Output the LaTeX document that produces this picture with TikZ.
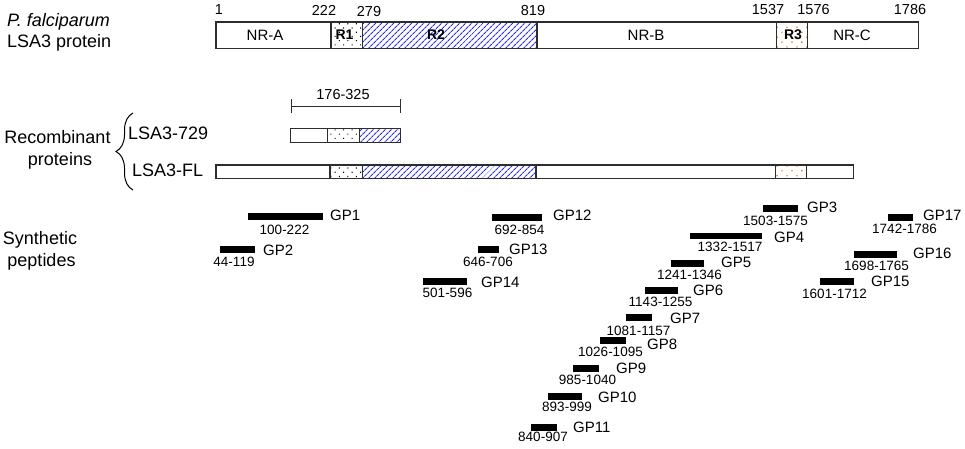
\documentclass[tikz,border=0pt]{standalone}
\usepackage{fontspec}
\setmainfont{Liberation Sans}
\usetikzlibrary{patterns.meta,decorations.pathreplacing,arrows.meta}
\definecolor{hatchblue}{RGB}{45,45,225}
\definecolor{dotorange}{RGB}{240,125,35}
\definecolor{edgecol}{RGB}{45,45,45}
\begin{document}
\begin{tikzpicture}[x=1pt,y=-1pt,
 seg/.style={draw=edgecol,line width=1.3pt,inner sep=0pt,outer sep=0pt,anchor=north west},
 rtwo/.style={pattern={Lines[angle=45,distance=4pt,line width=1.1pt]},pattern color=hatchblue},
 rone/.style={pattern={Dots[radius=0.75pt,distance=6pt,angle=45]},pattern color=black},
 rthree/.style={pattern={Dots[radius=0.9pt,distance=7pt,angle=45]},pattern color=dotorange},
 pbar/.style={fill=black,inner sep=0pt,outer sep=0pt,anchor=north west},
 gp/.style={font=\fontsize{15}{18}\selectfont,inner sep=0pt,anchor=west},
 num/.style={font=\fontsize{13.5}{16}\selectfont,inner sep=0pt},
 posn/.style={font=\fontsize{14.5}{17}\selectfont,inner sep=0pt},
 big/.style={font=\fontsize{18}{22}\selectfont,inner sep=0pt,anchor=base},
 seglbl/.style={font=\fontsize{15}{18}\selectfont,inner sep=0pt},
 rlbl/.style={font=\fontsize{14}{17}\selectfont\bfseries,inner sep=0pt},
 dim/.style={line width=1pt,draw=edgecol,{Bar[width=14pt,line width=1pt]}-{Bar[width=14pt,line width=1pt]}},
]
\useasboundingbox (0,0) rectangle (965,448);

% ---------- left labels
\node[big,anchor=base west] (pf) at (7,26) {\itshape P. falciparum};
\node[big,anchor=base west] (lsa) at (7,47) {LSA3 protein};
\node[big] (rec) at (57.5,143) {Recombinant};
\node[big] (prot) at (60,165) {proteins};
\node[big] (syn) at (40,244) {Synthetic};
\node[big] (pep) at (41.5,266) {peptides};

% ---------- full protein
\node[seg,minimum width=115pt,minimum height=26.5pt] (nra) at (216,22) {};
\node[seg,rone,minimum width=31.5pt,minimum height=26.5pt] (rA) at (331,22) {};
\node[seg,rtwo,minimum width=174.5pt,minimum height=26.5pt] (rB) at (362.5,22) {};
\node[seg,minimum width=239.5pt,minimum height=26.5pt] (nrb) at (537,22) {};
\node[seg,rthree,minimum width=31pt,minimum height=26.5pt] (rC) at (776.5,22) {};
\node[seg,minimum width=111pt,minimum height=26.5pt] (nrc) at (807.5,22) {};

\node[seglbl] (lnra) at (265,35) {NR-A};
\node[rlbl] (lrA) at (344.5,35) {R1};
\node[rlbl] (lrB) at (436,35) {R2};
\node[seglbl] (lnrb) at (646,35) {NR-B};
\node[rlbl] (lrC) at (793,35) {R3};
\node[seglbl] (lnrc) at (852,35) {NR-C};

\node[posn] (p1) at (219,10) {1};
\node[posn] (p222) at (324,10) {222};
\node[posn] (p279) at (369,12) {279};
\node[posn] (p819) at (533,10.5) {819};
\node[posn] (p1537) at (768,10) {1537};
\node[posn] (p1576) at (813.5,10) {1576};
\node[posn] (p1786) at (910,10) {1786};

% ---------- recombinant proteins
\coordinate (dl) at (290.7,106);
\coordinate (dr) at (400.7,106);
\draw[dim] (dl) -- (dr);
\node[posn] (range) at (343,94.3) {176-325};

\node[seg,minimum width=36.6pt,minimum height=13.6pt] (sa1) at (290.7,128.7) {};
\node[seg,rone,minimum width=32pt,minimum height=13.6pt] (sa2) at (327.3,128.7) {};
\node[seg,rtwo,minimum width=41.4pt,minimum height=13.6pt] (sa3) at (359.3,128.7) {};

\node[seg,minimum width=114pt,minimum height=13.3pt] (fl1) at (216,165) {};
\node[seg,rone,minimum width=32.3pt,minimum height=13.3pt] (fl2) at (330,165) {};
\node[seg,rtwo,minimum width=173.7pt,minimum height=13.3pt] (fl3) at (362.3,165) {};
\node[seg,minimum width=239.5pt,minimum height=13.3pt] (fl4) at (536,165) {};
\node[seg,rthree,minimum width=31.2pt,minimum height=13.3pt] (fl5) at (775.5,165) {};
\node[seg,minimum width=46.6pt,minimum height=13.3pt] (fl6) at (806.7,165) {};

\node[big,anchor=base west] (l729) at (128,139.5) {LSA3-729};
\node[big,anchor=base west] (lfl) at (132,176.5) {LSA3-FL};

\coordinate (bb) at (133,190);
\coordinate (bt) at (133,113);
\draw[line width=1pt,decorate,decoration={brace,amplitude=17pt}] (bb) -- (bt);

% ---------- synthetic peptides
\node[pbar,minimum width=75pt,minimum height=7pt] (g1) at (248,213) {};
\node[pbar,minimum width=35pt,minimum height=6.5pt] (g2) at (220,246) {};
\node[pbar,minimum width=35pt,minimum height=6.5pt] (g3) at (763,205) {};
\node[pbar,minimum width=72pt,minimum height=6.5pt] (g4) at (690,232.5) {};
\node[pbar,minimum width=33pt,minimum height=6.5pt] (g5) at (671,260) {};
\node[pbar,minimum width=33pt,minimum height=6.5pt] (g6) at (645,287) {};
\node[pbar,minimum width=26pt,minimum height=7pt] (g7) at (626,314) {};
\node[pbar,minimum width=26pt,minimum height=7pt] (g8) at (600,337) {};
\node[pbar,minimum width=26pt,minimum height=6.5pt] (g9) at (573,365) {};
\node[pbar,minimum width=34pt,minimum height=6.5pt] (g10) at (548,393) {};
\node[pbar,minimum width=26pt,minimum height=7pt] (g11) at (531,424) {};
\node[pbar,minimum width=50pt,minimum height=6.5pt] (g12) at (492,214) {};
\node[pbar,minimum width=21pt,minimum height=6.5pt] (g13) at (478,246) {};
\node[pbar,minimum width=44pt,minimum height=6.5pt] (g14) at (423,278) {};
\node[pbar,minimum width=34pt,minimum height=6.5pt] (g15) at (820,278) {};
\node[pbar,minimum width=43pt,minimum height=6.5pt] (g16) at (854,251) {};
\node[pbar,minimum width=25pt,minimum height=6.5pt] (g17) at (888,214) {};

\node[gp] (t1) at (330,215) {GP1};
\node[gp] (t2) at (263,250) {GP2};
\node[gp] (t3) at (807,207) {GP3};
\node[gp] (t4) at (774,237) {GP4};
\node[gp] (t5) at (721,262) {GP5};
\node[gp] (t6) at (693,290) {GP6};
\node[gp] (t7) at (670,318) {GP7};
\node[gp] (t8) at (647,344) {GP8};
\node[gp] (t9) at (616,368) {GP9};
\node[gp] (t10) at (598,397) {GP10};
\node[gp] (t11) at (573,427) {GP11};
\node[gp] (t12) at (553,215) {GP12};
\node[gp] (t13) at (509,249) {GP13};
\node[gp] (t14) at (481,282) {GP14};
\node[gp] (t15) at (871,281) {GP15};
\node[gp] (t16) at (913,253) {GP16};
\node[gp] (t17) at (923,215) {GP17};

\node[num] (n1) at (284.5,230) {100-222};
\node[num] (n2) at (234,262) {44-119};
\node[num] (n3) at (775.5,221) {1503-1575};
\node[num] (n4) at (730,247) {1332-1517};
\node[num] (n5) at (689.5,275) {1241-1346};
\node[num] (n6) at (660.5,302) {1143-1255};
\node[num] (n7) at (638.5,331) {1081-1157};
\node[num] (n8) at (610.5,352) {1026-1095};
\node[num] (n9) at (587.5,380) {985-1040};
\node[num] (n10) at (567,407) {893-999};
\node[num] (n11) at (543,437) {840-907};
\node[num] (n12) at (519.5,230) {692-854};
\node[num] (n13) at (488,262) {646-706};
\node[num] (n14) at (447.5,293) {501-596};
\node[num] (n15) at (834.5,294) {1601-1712};
\node[num] (n16) at (876.5,266) {1698-1765};
\node[num] (n17) at (904.5,229) {1742-1786};
\end{tikzpicture}
\end{document}
